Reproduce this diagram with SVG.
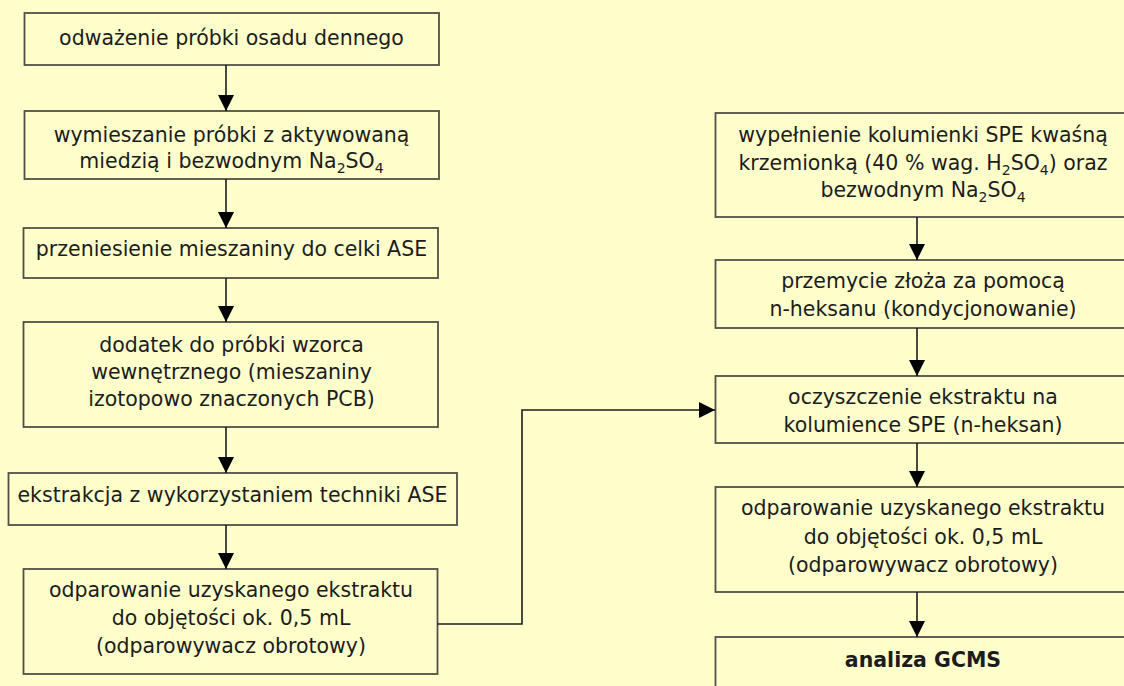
<svg xmlns="http://www.w3.org/2000/svg" width="1124" height="686" viewBox="0 0 1124 686">
<defs>
<style>
.box{fill:#FFFFCC;stroke:#505048;stroke-width:1.8}
.t{font-family:"DejaVu Sans",Verdana,sans-serif;font-size:20.5px;fill:#1c1c1c;text-anchor:middle}
.b{font-weight:bold}
.sub{font-size:14px}
.con{fill:none;stroke:#1c1c1c;stroke-width:1.6}
</style>
<marker id="ah" markerWidth="16" markerHeight="16" viewBox="0 0 16 16" refX="16" refY="8" orient="auto" markerUnits="userSpaceOnUse">
<path d="M0,0 L16,8 L0,16 Z" fill="#000"/>
</marker>
</defs>
<rect width="1124" height="686" fill="#FFFFCC"/>

<g id="n1"><rect class="box" x="24.5" y="13" width="414.5" height="52"/>
<text class="t" x="231.5" y="45">odważenie próbki osadu dennego</text></g>

<g id="n2"><rect class="box" x="24.5" y="111" width="414.5" height="68"/>
<text class="t" x="231.5" y="142">wymieszanie próbki z aktywowaną</text>
<text class="t" x="231.5" y="168">miedzią i bezwodnym Na<tspan class="sub" dy="5">2</tspan><tspan dy="-5">SO</tspan><tspan class="sub" dy="5">4</tspan></text></g>

<g id="n3"><rect class="box" x="23.5" y="228" width="414.5" height="50"/>
<text class="t" x="231.5" y="256">przeniesienie mieszaniny do celki ASE</text></g>

<g id="n4"><rect class="box" x="23.5" y="322" width="414.5" height="105"/>
<text class="t" x="231.5" y="352">dodatek do próbki wzorca</text>
<text class="t" x="231.5" y="379">wewnętrznego (mieszaniny</text>
<text class="t" x="231.5" y="406">izotopowo znaczonych PCB)</text></g>

<g id="n5"><rect class="box" x="8.5" y="473" width="448.5" height="52"/>
<text class="t" x="232.5" y="502">ekstrakcja z wykorzystaniem techniki ASE</text></g>

<g id="n6"><rect class="box" x="23.5" y="569" width="414" height="105"/>
<text class="t" x="231" y="597">odparowanie uzyskanego ekstraktu</text>
<text class="t" x="231" y="625">do objętości ok. 0,5 mL</text>
<text class="t" x="231" y="653">(odparowywacz obrotowy)</text></g>

<g id="r1"><rect class="box" x="715.5" y="113" width="420" height="104"/>
<text class="t" x="923" y="142">wypełnienie kolumienki SPE kwaśną</text>
<text class="t" x="923" y="170">krzemionką (40 % wag. H<tspan class="sub" dy="5">2</tspan><tspan dy="-5">SO</tspan><tspan class="sub" dy="5">4</tspan><tspan dy="-5">) oraz</tspan></text>
<text class="t" x="923" y="197">bezwodnym Na<tspan class="sub" dy="5">2</tspan><tspan dy="-5">SO</tspan><tspan class="sub" dy="5">4</tspan></text></g>

<g id="r2"><rect class="box" x="715.5" y="260" width="420" height="68"/>
<text class="t" x="923" y="288">przemycie złoża za pomocą</text>
<text class="t" x="923" y="316">n-heksanu (kondycjonowanie)</text></g>

<g id="r3"><rect class="box" x="715.5" y="376" width="420" height="67"/>
<text class="t" x="923" y="404">oczyszczenie ekstraktu na</text>
<text class="t" x="923" y="432">kolumience SPE (n-heksan)</text></g>

<g id="r4"><rect class="box" x="715.5" y="487" width="420" height="105"/>
<text class="t" x="923" y="515">odparowanie uzyskanego ekstraktu</text>
<text class="t" x="923" y="544">do objętości ok. 0,5 mL</text>
<text class="t" x="923" y="572">(odparowywacz obrotowy)</text></g>

<g id="r5"><rect class="box" x="715.5" y="637" width="420" height="60"/>
<text class="t b" x="923" y="667">analiza GCMS</text></g>

<g id="connectors">
<line class="con" x1="226" y1="65" x2="226" y2="111" marker-end="url(#ah)"/>
<line class="con" x1="226" y1="179" x2="226" y2="228" marker-end="url(#ah)"/>
<line class="con" x1="226" y1="278" x2="226" y2="322" marker-end="url(#ah)"/>
<line class="con" x1="226" y1="427" x2="226" y2="473" marker-end="url(#ah)"/>
<line class="con" x1="226" y1="525" x2="226" y2="569" marker-end="url(#ah)"/>
<polyline class="con" points="437.5,624 522,624 522,410 715,410" marker-end="url(#ah)"/>
<line class="con" x1="917" y1="217" x2="917" y2="260" marker-end="url(#ah)"/>
<line class="con" x1="917" y1="328" x2="917" y2="376" marker-end="url(#ah)"/>
<line class="con" x1="917" y1="443" x2="917" y2="487" marker-end="url(#ah)"/>
<line class="con" x1="917" y1="592" x2="917" y2="637" marker-end="url(#ah)"/>
</g>
</svg>
